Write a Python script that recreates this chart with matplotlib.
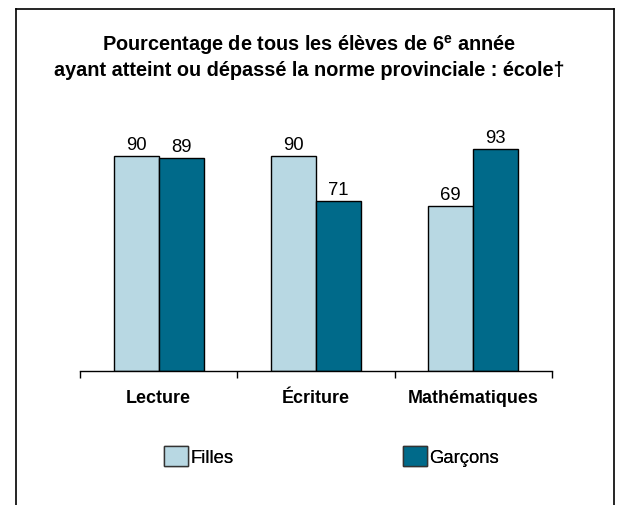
import numpy as np
import matplotlib
matplotlib.use("Agg")
import matplotlib.pyplot as plt
from matplotlib.lines import Line2D
from matplotlib.patches import Patch

plt.rcParams['font.family'] = ['Liberation Sans', 'DejaVu Sans']
plt.rcParams['mathtext.fontset'] = 'custom'
plt.rcParams['mathtext.rm'] = 'Liberation Sans:bold'

categories = ["Lecture", "Écriture", "Mathématiques"]
series_names = ["Filles", "Garçons"]
filles = [90, 90, 69]
garcons = [89, 71, 93]

light = "#b8d8e3"
dark = "#006a8a"

W, H = 619, 506
fig = plt.figure(figsize=(W / 100, H / 100), dpi=100)

# axes: baseline at y=372, x from 80 to 552
left, right = 80 / W, 552 / W
bottom = 1 - 372 / H
top = 1 - 133 / H
ax = fig.add_axes([left, bottom, right - left, top - bottom])

x = np.arange(len(categories))
bw = 45 / 157
b1 = ax.bar(x - bw / 2, filles, bw, color=light, edgecolor="black", linewidth=1.0)
b2 = ax.bar(x + bw / 2, garcons, bw, color=dark, edgecolor="black", linewidth=1.0)

for bars in (b1, b2):
    for r in bars:
        ax.text(r.get_x() + r.get_width() / 2, r.get_height() + 1.2, f"{r.get_height():.0f}",
                ha="center", va="bottom", fontsize=13.3)

ax.set_xlim(-0.5, len(categories) - 0.5)
ax.set_ylim(0, 100)
for s in ("top", "right", "left"):
    ax.spines[s].set_visible(False)
ax.spines["bottom"].set_linewidth(1.0)
ax.set_yticks([])
ax.set_xticks(np.arange(len(categories) + 1) - 0.5, minor=False)
ax.set_xticklabels([])
ax.tick_params(axis="x", length=5, width=1.0, direction="out")
ax.set_xticks(x, minor=True)
ax.set_xticklabels(categories, minor=True, fontsize=12.9, fontweight="bold")
ax.tick_params(axis="x", which="minor", length=0, pad=13)

# title
fig.text(0.5, 1 - 45 / H, r"Pourcentage de tous les élèves de 6$^{\mathrm{e}}$ année",
         ha="center", va="center", fontsize=14.3, fontweight="bold")
fig.text(0.5, 1 - 70 / H, "ayant atteint ou dépassé la norme provinciale : école†",
         ha="center", va="center", fontsize=14.3, fontweight="bold")

# legend entries, placed separately
legend_x = [164, 403]
colors = [light, dark]
for name, c, lxp in zip(series_names, colors, legend_x):
    leg = fig.legend([Patch(facecolor=c, edgecolor="#333333")], [name], loc="center left",
                     bbox_to_anchor=(lxp / W, 1 - 457 / H), frameon=False, fontsize=13.3,
                     handlelength=1.3, handleheight=1.3, handletextpad=0.12,
                     borderpad=0, borderaxespad=0)
    fig.add_artist(leg)

# frame around chart
lx, rx = 15.5 / W, 614 / W
ty = 1 - 10 / H
fig.add_artist(Line2D([lx, lx], [0, ty], color="black", lw=1.2))
fig.add_artist(Line2D([lx, rx], [ty, ty], color="black", lw=1.2))
fig.add_artist(Line2D([rx, rx], [0, ty], color="black", lw=1.2))

fig.savefig("out.png", dpi=100)
